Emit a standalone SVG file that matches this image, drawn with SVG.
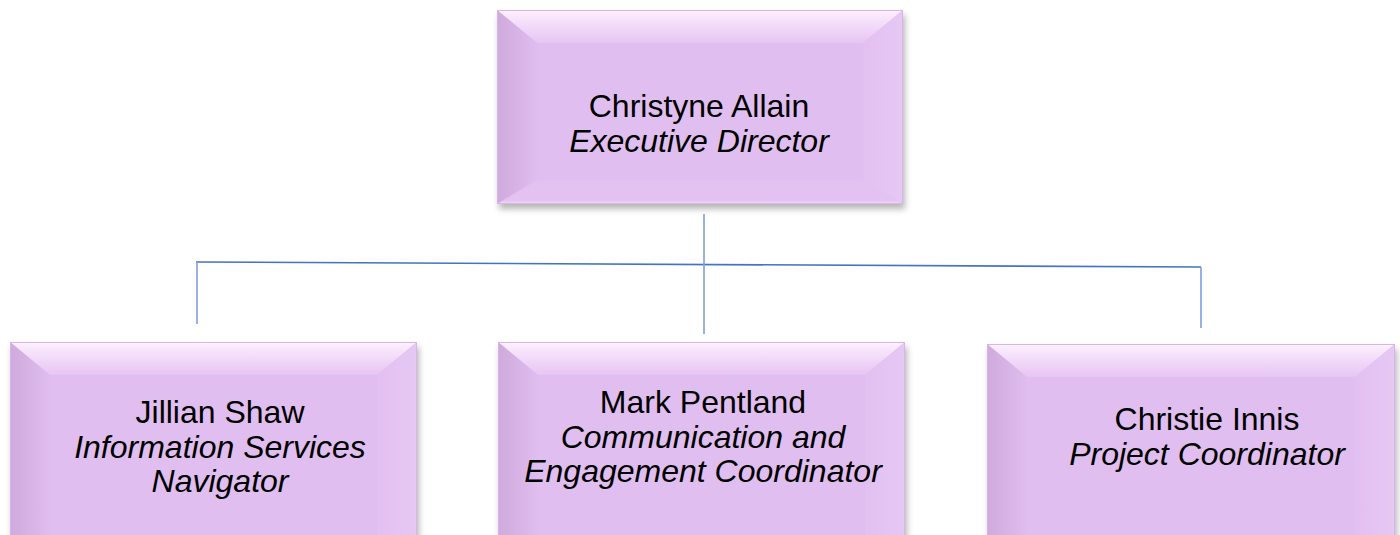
<svg xmlns="http://www.w3.org/2000/svg" width="1400" height="535" viewBox="0 0 1400 535">
<defs>
<linearGradient id="gTop" x1="0" y1="0" x2="0" y2="1">
<stop offset="0" stop-color="#FCF2FD"/>
<stop offset="0.35" stop-color="#F5E0FA"/>
<stop offset="1" stop-color="#E6C5F3"/>
</linearGradient>
<linearGradient id="gLeft" x1="0" y1="0" x2="1" y2="0">
<stop offset="0" stop-color="#CFAADD"/>
<stop offset="1" stop-color="#DFBDEE"/>
</linearGradient>
<linearGradient id="gRight" x1="0" y1="0" x2="1" y2="0">
<stop offset="0" stop-color="#E2C0F1"/>
<stop offset="1" stop-color="#E6C8F4"/>
</linearGradient>
<linearGradient id="gBottom" x1="0" y1="0" x2="0" y2="1">
<stop offset="0" stop-color="#E2C0F1"/>
<stop offset="0.85" stop-color="#E4C3F2"/>
<stop offset="1" stop-color="#F1DCF7"/>
</linearGradient>
<filter id="shadow" x="-5%" y="-5%" width="110%" height="120%">
<feGaussianBlur stdDeviation="3"/>
</filter>
</defs>
<style>
.face{fill:#E1BEF0;}
.edge{fill:none;stroke:#D8B5E6;stroke-width:1;}
.shadow{fill:#7a7a7a;opacity:0.55;}
.name{font-family:"Liberation Sans",Arial,sans-serif;font-size:32px;fill:#000;text-anchor:middle;}
.role{font-family:"Liberation Sans",Arial,sans-serif;font-size:32px;font-style:italic;fill:#000;text-anchor:middle;}
.conn line{stroke-width:1.6;fill:none;}
</style>

<g id="connectors" class="conn">
<line x1="196" y1="262" x2="1201" y2="267" stroke="#4472C4"/>
<line x1="704" y1="214" x2="704" y2="334" stroke="#7F9FDD"/>
<line x1="197" y1="262" x2="197" y2="324" stroke="#7F9FDD"/>
<line x1="1201" y1="267" x2="1201" y2="328" stroke="#7F9FDD"/>
</g>

<g id="node-director">
<rect class="shadow" x="499" y="15" width="406" height="194" filter="url(#shadow)"/>
<rect class="face" x="497" y="10" width="406" height="194"/>
<polygon fill="url(#gTop)" points="497,10 903,10 863,43 537,43"/>
<polygon fill="url(#gLeft)" points="497,10 537,43 537,180 497,204"/>
<polygon fill="url(#gRight)" points="903,10 903,204 863,180 863,43"/>
<polygon fill="url(#gBottom)" points="497,204 537,180 863,180 903,204"/>
<rect class="face" x="537" y="43" width="326" height="137"/>
<rect class="edge" x="497.5" y="10.5" width="405" height="193"/>
<text class="name" x="699" y="117">Christyne Allain</text>
<text class="role" x="699" y="152">Executive Director</text>
</g>

<g id="node-jillian">
<rect class="shadow" x="12" y="347" width="407" height="200" filter="url(#shadow)"/>
<rect class="face" x="10" y="342" width="407" height="200"/>
<polygon fill="url(#gTop)" points="10,342 417,342 377,375 50,375"/>
<polygon fill="url(#gLeft)" points="10,342 50,375 50,540 10,540"/>
<polygon fill="url(#gRight)" points="417,342 417,540 377,540 377,375"/>
<rect class="face" x="50" y="375" width="327" height="165"/>
<rect class="edge" x="10.5" y="342.5" width="406" height="200"/>
<text class="name" x="220" y="423">Jillian Shaw</text>
<text class="role" x="220" y="458">Information Services</text>
<text class="role" x="220" y="492">Navigator</text>
</g>

<g id="node-mark">
<rect class="shadow" x="500" y="347" width="407" height="200" filter="url(#shadow)"/>
<rect class="face" x="498" y="342" width="407" height="200"/>
<polygon fill="url(#gTop)" points="498,342 905,342 865,375 538,375"/>
<polygon fill="url(#gLeft)" points="498,342 538,375 538,540 498,540"/>
<polygon fill="url(#gRight)" points="905,342 905,540 865,540 865,375"/>
<rect class="face" x="538" y="375" width="327" height="165"/>
<rect class="edge" x="498.5" y="342.5" width="406" height="200"/>
<text class="name" x="703" y="413">Mark Pentland</text>
<text class="role" x="703" y="448">Communication and</text>
<text class="role" x="703" y="482">Engagement Coordinator</text>
</g>

<g id="node-christie">
<rect class="shadow" x="989" y="349" width="408" height="200" filter="url(#shadow)"/>
<rect class="face" x="987" y="344" width="408" height="200"/>
<polygon fill="url(#gTop)" points="987,344 1395,344 1355,377 1027,377"/>
<polygon fill="url(#gLeft)" points="987,344 1027,377 1027,540 987,540"/>
<polygon fill="url(#gRight)" points="1395,344 1395,540 1355,540 1355,377"/>
<rect class="face" x="1027" y="377" width="328" height="163"/>
<rect class="edge" x="987.5" y="344.5" width="407" height="200"/>
<text class="name" x="1207" y="430">Christie Innis</text>
<text class="role" x="1207" y="465">Project Coordinator</text>
</g>
</svg>
